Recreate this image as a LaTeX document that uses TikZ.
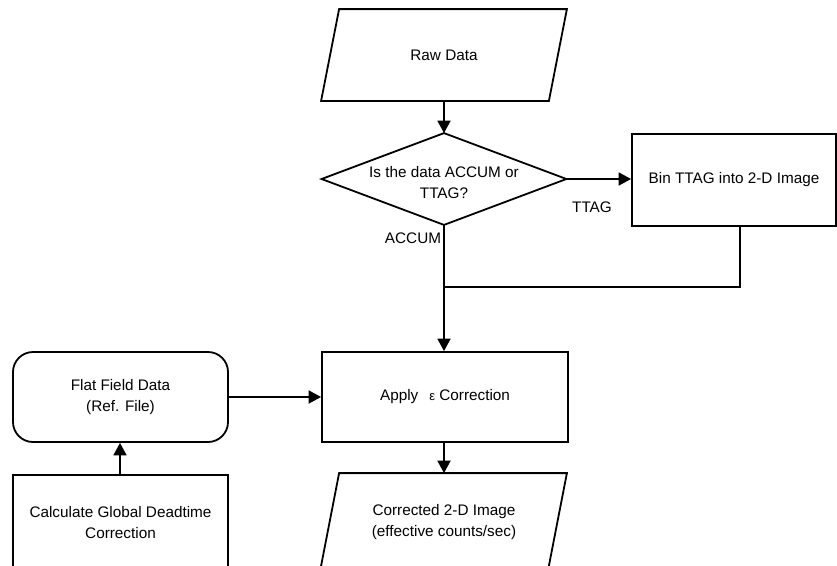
\documentclass[tikz,border=0pt]{standalone}
\usepackage{fontspec}
\setmainfont{Liberation Sans}
\usetikzlibrary{arrows.meta}
\begin{document}
\begin{tikzpicture}[x=1pt,y=-1pt,
  font=\fontsize{15.3}{21}\selectfont,
  line width=1.8pt,
  box/.style={draw, rectangle, align=center, inner sep=0pt},
  shapebox/.style={rectangle, draw=none, align=center, inner sep=0pt},
  flow/.style={-{Triangle[length=12.5pt,width=13pt]}},
  lbl/.style={inner sep=0pt}]
\clip (0,0) rectangle (837,565);

% input data (parallelogram)
\node[shapebox, minimum width=226pt, minimum height=90pt] (raw) at (444,55) {Raw Data};
\draw ([xshift=9pt]raw.north west) -- ([xshift=9pt]raw.north east)
  -- ([xshift=-9pt]raw.south east) -- ([xshift=-9pt]raw.south west) -- cycle;

% decision
\node[shapebox, minimum width=243pt, minimum height=90pt] (dec) at (444,179) {};
\draw (dec.north) -- (dec.east) -- (dec.south) -- (dec.west) -- cycle;
\node[lbl, align=center] (dectxt) at (444,183) {Is the data ACCUM or\\TTAG?};

% process boxes
\node[box, minimum width=204pt, minimum height=92pt] (bin) at (734,180) {Bin TTAG into 2-D Image};
\node[box, minimum width=246pt, minimum height=90pt] (apply) at (445,397)
  {Apply\hspace{11pt}{\fontsize{13}{13}\selectfont ε} Correction};
\node[box, rounded corners=20pt, minimum width=215pt, minimum height=90pt] (flat) at (120.5,397)
  {Flat Field Data\\(Ref. File)};
\node[box, minimum width=215pt, minimum height=95pt] (calc) at (120.5,522.5)
  {Calculate Global Deadtime\\Correction};

% output data (parallelogram)
\node[shapebox, minimum width=226pt, minimum height=96pt] (corr) at (444,522)
  {Corrected 2-D Image\\(effective counts/sec)};
\draw ([xshift=9pt]corr.north west) -- ([xshift=9pt]corr.north east)
  -- ([xshift=-10pt]corr.south east) -- ([xshift=-10pt]corr.south west) -- cycle;

% connectors
\coordinate (j) at (444,287);
\draw[flow] (raw.south) -- (dec.north);
\draw[flow] (dec.east) -- (dec.east -| bin.west);
\draw ([xshift=6pt]bin.south) |- (j);
\draw[flow] (dec.south) -- (dec.south |- apply.north);
\draw[flow] (flat.east) -- (apply.west);
\draw[flow] ([xshift=-0.5pt]calc.north) -- ([xshift=-0.5pt]flat.south);
\draw[flow] (apply.south -| corr.north) -- (corr.north);

% branch labels
\node[lbl] (ttag) at (592,207) {TTAG};
\node[lbl] (accum) at (413,238) {ACCUM};
\end{tikzpicture}
\end{document}
